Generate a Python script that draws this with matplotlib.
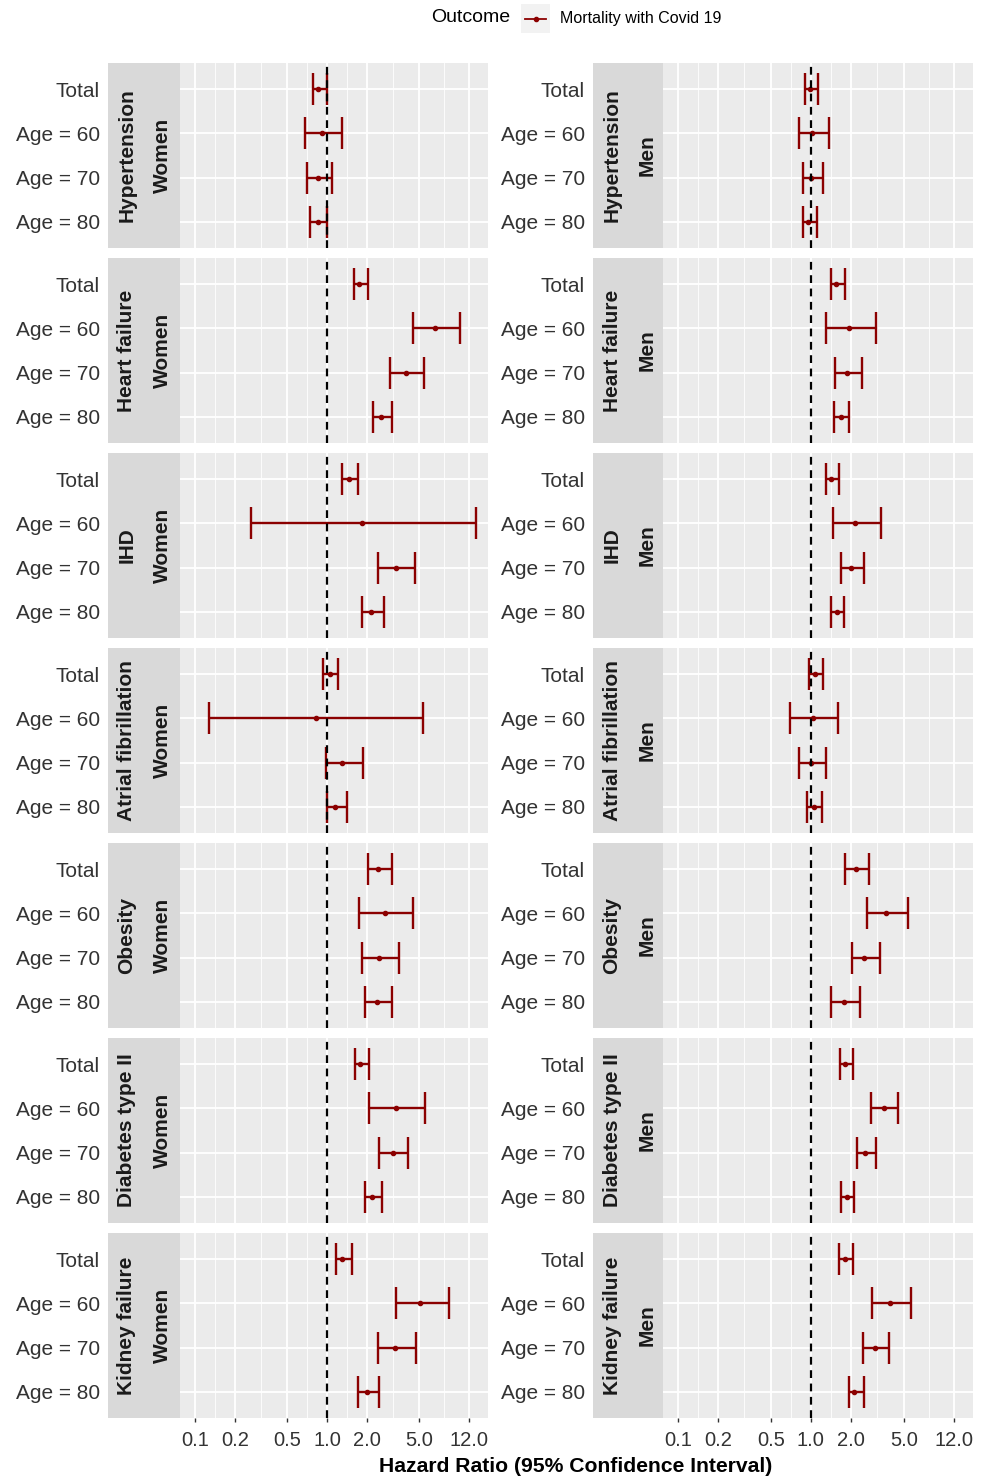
import numpy as np
import matplotlib
matplotlib.use('Agg')
from matplotlib import pyplot as plt
from matplotlib.patches import Rectangle
from matplotlib.lines import Line2D
from matplotlib.ticker import NullFormatter

plt.rcParams['font.family'] = ['Liberation Sans', 'DejaVu Sans']

conditions = ['Hypertension', 'Heart failure', 'IHD', 'Atrial fibrillation',
              'Obesity', 'Diabetes type II', 'Kidney failure']
sexes = ['Women', 'Men']
groups = ['Total', 'Age = 60', 'Age = 70', 'Age = 80']
x_breaks = [0.1, 0.2, 0.5, 1.0, 2.0, 5.0, 12.0]
x_labels = ['0.1', '0.2', '0.5', '1.0', '2.0', '5.0', '12.0']

# hazard ratio and 95% CI, one row per condition, columns follow `groups`
hr_women = [[0.85, 0.91, 0.85, 0.85],
            [1.76, 6.58, 3.97, 2.56],
            [1.46, 1.85, 3.33, 2.14],
            [1.05, 0.82, 1.30, 1.16],
            [2.45, 2.73, 2.49, 2.39],
            [1.79, 3.33, 3.14, 2.20],
            [1.31, 5.09, 3.29, 2.01]]
lo_women = [[0.78, 0.68, 0.71, 0.75],
            [1.60, 4.46, 3.00, 2.22],
            [1.31, 0.265, 2.45, 1.85],
            [0.94, 0.128, 0.98, 1.00],
            [2.05, 1.75, 1.85, 1.95],
            [1.62, 2.10, 2.49, 1.94],
            [1.18, 3.33, 2.45, 1.71]]
hi_women = [[1.00, 1.29, 1.10, 1.00],
            [2.03, 10.2, 5.46, 3.13],
            [1.72, 13.4, 4.61, 2.69],
            [1.21, 5.37, 1.86, 1.43],
            [3.12, 4.51, 3.51, 3.09],
            [2.08, 5.56, 4.08, 2.61],
            [1.55, 8.40, 4.72, 2.49]]

hr_men = [[0.98, 1.02, 1.00, 0.95],
          [1.55, 1.95, 1.86, 1.67],
          [1.41, 2.14, 2.02, 1.56],
          [1.07, 1.03, 1.00, 1.06],
          [2.18, 3.68, 2.53, 1.78],
          [1.81, 3.52, 2.56, 1.86],
          [1.81, 3.95, 3.03, 2.12]]
lo_men = [[0.91, 0.81, 0.87, 0.875],
          [1.41, 1.30, 1.51, 1.48],
          [1.29, 1.46, 1.67, 1.41],
          [0.97, 0.695, 0.82, 0.94],
          [1.80, 2.64, 2.03, 1.41],
          [1.66, 2.84, 2.24, 1.69],
          [1.64, 2.89, 2.47, 1.92]]
hi_men = [[1.14, 1.36, 1.24, 1.11],
          [1.79, 3.08, 2.42, 1.94],
          [1.62, 3.36, 2.53, 1.78],
          [1.24, 1.60, 1.30, 1.22],
          [2.73, 5.36, 3.30, 2.35],
          [2.07, 4.53, 3.08, 2.12],
          [2.07, 5.71, 3.86, 2.50]]

data = {'Women': (hr_women, lo_women, hi_women),
        'Men': (hr_men, lo_men, hi_men)}

W, H = 988, 1477
fig = plt.figure(figsize=(W / 100, H / 100), dpi=100)


def frac(x, y, w, h):
    return [x / W, 1 - (y + h) / H, w / W, h / H]


strip_x = [108, 593]
panel_x = [180, 663]
panel_w = [308, 310]
row_top, row_h, row_gap = 63, 185, 10

red = '#8B0000'
text_col = '#333333'
ypos = np.arange(len(groups))
minor_breaks = np.sqrt(np.array(x_breaks[:-1]) * np.array(x_breaks[1:]))

for c, sex in enumerate(sexes):
    hr_all, lo_all, hi_all = data[sex]
    for r, cond in enumerate(conditions):
        top = row_top + r * (row_h + row_gap)

        # strip on the left, it also carries the group labels
        sax = fig.add_axes(frac(strip_x[c], top, panel_x[c] - strip_x[c], row_h))
        sax.set_facecolor('#D9D9D9')
        for s in sax.spines.values():
            s.set_visible(False)
        sax.set_xlim(0, 1)
        sax.set_ylim(len(groups) - 0.4, -0.6)
        sax.set_xticks([])
        sax.set_yticks(ypos)
        sax.set_yticklabels(groups, fontsize=15, color=text_col)
        sax.tick_params(axis='y', length=0, pad=6)
        sw = panel_x[c] - strip_x[c]
        sax.text(19 / sw, 0.5, cond, transform=sax.transAxes, rotation=90,
                 ha='center', va='center', fontsize=15, fontweight='bold', color='#1A1A1A')
        sax.text(54.5 / sw, 0.5, sex, transform=sax.transAxes, rotation=90,
                 ha='center', va='center', fontsize=15, fontweight='bold', color='#1A1A1A')

        ax = fig.add_axes(frac(panel_x[c], top, panel_w[c], row_h))
        ax.set_facecolor('#EBEBEB')
        for s in ax.spines.values():
            s.set_visible(False)
        ax.set_xscale('log')
        ax.set_xlim(0.077, 16.6)
        ax.set_ylim(len(groups) - 0.4, -0.6)
        ax.set_yticks([])
        ax.set_xticks(x_breaks)
        ax.set_xticks(minor_breaks, minor=True)
        ax.xaxis.set_minor_formatter(NullFormatter())
        ax.grid(True, which='major', axis='x', color='white', lw=1.3)
        ax.grid(True, which='minor', axis='x', color='white', lw=0.6)
        for y in ypos:
            ax.axhline(y, color='white', lw=1.3, zorder=0.5)
        ax.set_axisbelow(True)

        hr = np.array(hr_all[r])
        lo = np.array(lo_all[r])
        hi = np.array(hi_all[r])
        ax.errorbar(hr, ypos, xerr=[hr - lo, hi - hr], fmt='o', color=red,
                    ms=3, elinewidth=1.7, capsize=11.5, capthick=1.7, zorder=2)
        ax.axvline(1.0, color='black', ls=(0, (3.5, 2.5)), lw=1.6, zorder=3)

        ax.tick_params(axis='x', which='minor', length=0)
        if r == len(conditions) - 1:
            ax.set_xticklabels(x_labels, fontsize=14.5, color=text_col)
            ax.tick_params(axis='x', which='major', length=3, width=1,
                           color=text_col, pad=6)
        else:
            ax.set_xticklabels([])
            ax.tick_params(axis='x', which='major', length=0)

fig.text(576 / W, 1 - 1466 / H, 'Hazard Ratio (95% Confidence Interval)',
         ha='center', va='center', fontsize=15.2, fontweight='bold', color='black')

# legend at the top
fig.text(510 / W, 1 - 18 / H, 'Outcome', ha='right', va='center', fontsize=14, color='black')
fig.patches.append(Rectangle((521 / W, 1 - 33 / H), 29 / W, 29 / H,
                             transform=fig.transFigure, facecolor='#F2F2F2',
                             edgecolor='none'))
fig.lines.append(Line2D([525 / W, 546 / W], [1 - 18.5 / H, 1 - 18.5 / H],
                        transform=fig.transFigure, color=red, lw=1.3))
fig.lines.append(Line2D([535.5 / W], [1 - 18.5 / H], transform=fig.transFigure,
                        color=red, marker='o', ms=3))
fig.text(560 / W, 1 - 18 / H, 'Mortality with Covid 19', ha='left', va='center',
         fontsize=11.5, color='black')

fig.savefig('out.png', dpi=100)
